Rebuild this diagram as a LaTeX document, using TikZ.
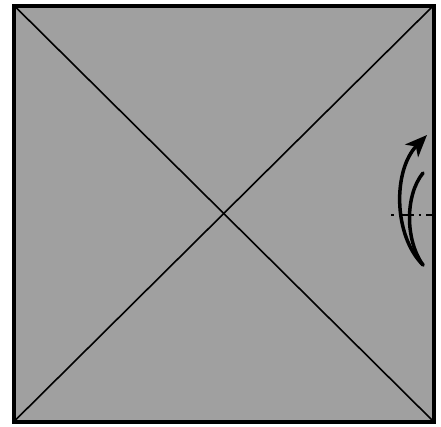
\documentclass[tikz,border=0pt]{standalone}
\usetikzlibrary{arrows.meta}
\definecolor{paper}{RGB}{160,160,160}
\begin{document}
\begin{tikzpicture}[x=1pt,y=-1pt,
  edge/.style={line width=4pt},
  crease/.style={line width=1.6pt},
  foldline/.style={line width=2.5pt, dash pattern=on 2.5pt off 5pt on 15pt off 5pt},
  arc/.style={line width=3.5pt, line cap=round}]
\useasboundingbox (0,0) rectangle (441,426);
\fill[white] (0,0) rectangle (441,426);
\coordinate (TL) at (14,5.5);
\coordinate (TR) at (433.5,5.5);
\coordinate (BR) at (433.5,421.5);
\coordinate (BL) at (14,421.5);
\fill[paper] (TL) rectangle (BR);
\draw[crease] (TL) -- (BR);
\draw[crease] (TR) -- (BL);
\coordinate (fs) at (391,215);
\coordinate (fe) at (433.5,215);
\draw[foldline] (fs) -- (fe);
\coordinate (bot) at (423,265);
\coordinate (tip) at (427,135);
\coordinate (inn) at (423,173);
\draw[arc, -{Stealth[length=22pt,width=18pt,inset=6pt]}] (bot) .. controls (393,235) and (393,170) .. (tip);
\draw[arc] (bot) .. controls (405,240) and (405,195) .. (inn);
\draw[edge] (TL) rectangle (BR);
\end{tikzpicture}
\end{document}
